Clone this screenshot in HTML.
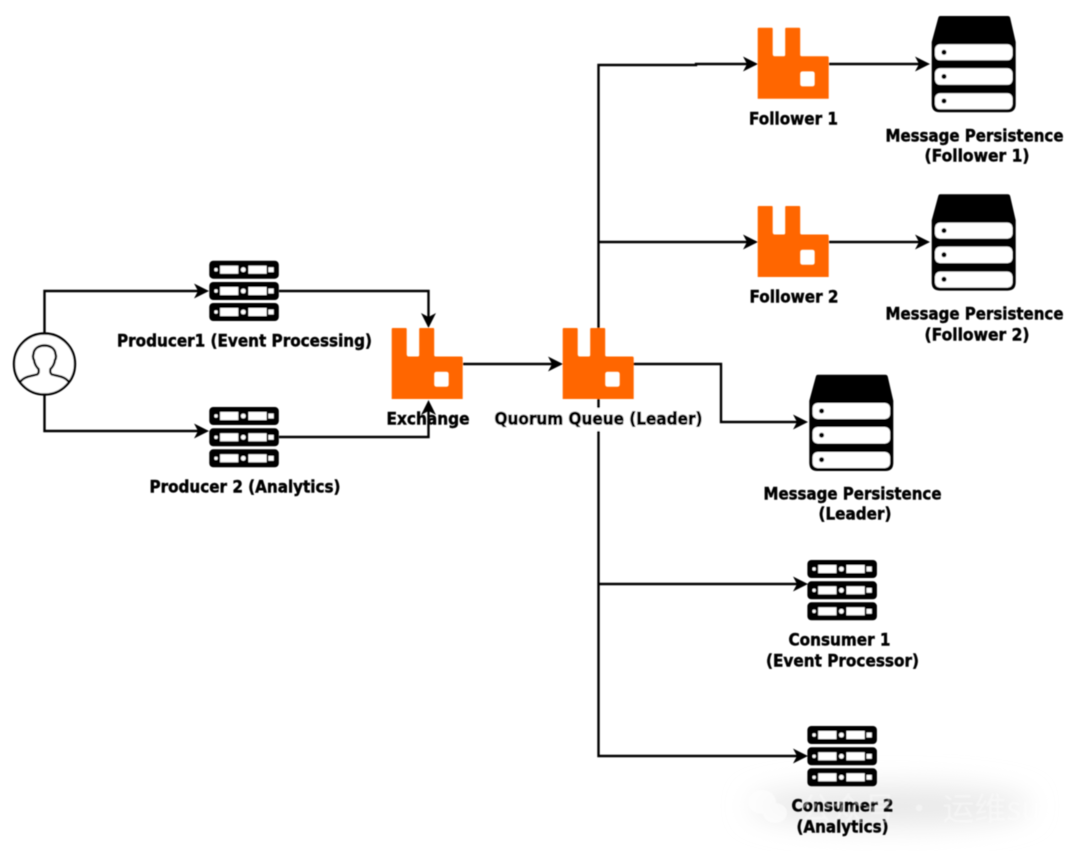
<!DOCTYPE html>
<html><head><meta charset="utf-8"><style>
html,body{margin:0;padding:0;background:#fff}
svg{display:block}
text{font-family:"DejaVu Sans","Liberation Sans","Noto Sans CJK SC",sans-serif;font-weight:700;font-size:17px;text-anchor:middle;fill:#000;stroke:#000;stroke-width:.45px}
</style></head><body>
<svg width="1080" height="851" viewBox="0 0 1080 851" xmlns="http://www.w3.org/2000/svg">
<defs>
<filter id="b" x="-30%" y="-80%" width="160%" height="260%"><feGaussianBlur stdDeviation="14"/></filter>
<filter id="s" x="-5%" y="-5%" width="110%" height="110%"><feGaussianBlur stdDeviation="0.4"/></filter>
<filter id="w" x="-5%" y="-20%" width="110%" height="140%"><feGaussianBlur stdDeviation="0.7"/></filter>
<g id="rabbit">
<path fill="#ff6600" fill-rule="evenodd" d="M0 1Q0 0 1 0H14Q15 0 15 1V26Q15 28.500 17 28.500H26Q27.500 28.500 27.500 27V1Q27.500 0 28.500 0H41.500Q42.500 0 42.500 1V27Q42.500 28.500 44 28.500H69.500Q71 28.500 71 30V71H0ZM45 43.700Q42.500 43.700 42.500 46.200V56.200Q42.500 58.700 45 58.700H54.500Q57 58.700 57 56.200V46.200Q57 43.700 54.500 43.700Z"/>
</g>
<g id="srow">
<rect width="69.500" height="18" rx="4" fill="#000"/>
<circle cx="6.700" cy="9" r="1.700" fill="#fff"/>
<rect x="10.800" y="5" width="18.200" height="8" fill="#fff"/>
<circle cx="34" cy="9" r="2.400" fill="#fff"/>
<rect x="39.100" y="5" width="18.200" height="8" fill="#fff"/>
<rect x="59.200" y="6.600" width="5.200" height="4.800" fill="#fff"/>
</g>
<g id="server">
<use href="#srow"/><use href="#srow" y="21.300"/><use href="#srow" y="42.300"/>
</g>
<g id="db">
<path d="M8.500 0H76Q78 0 78.500 2L84 26V88Q84 96.300 76 96.300H8Q0 96.300 0 88V26L6.500 2Q7 0 8.500 0Z" fill="#000"/>
<rect x="3.300" y="28.300" width="77.500" height="16" rx="5" fill="#fff"/>
<rect x="3.300" y="52.300" width="77.500" height="16.500" rx="5" fill="#fff"/>
<rect x="3.300" y="77.300" width="77.500" height="16" rx="5" fill="#fff"/>
<circle cx="12.300" cy="36.300" r="2.500" fill="#000"/>
<circle cx="12.300" cy="60.500" r="2.500" fill="#000"/>
<circle cx="12.300" cy="85" r="2.500" fill="#000"/>
</g>
<path id="ar" d="M0 0L-15 -7.500L-11 0L-15 7.500Z" fill="#000"/>
</defs>
<rect width="1080" height="851" fill="#fff"/>
<ellipse cx="890" cy="806" rx="140" ry="20" fill="#e8e8e8" filter="url(#b)"/>
<g filter="url(#s)">
<g fill="none" stroke="#000" stroke-width="2.400">
<path d="M44.500 333V291H200"/>
<path d="M44.500 395V431H200"/>
<path d="M279 291H428.500V320"/>
<path d="M279 437H428.500V408"/>
<path d="M463 364H555"/>
<path d="M598.500 328V65H696V64H750"/>
<path d="M598.500 242H750"/>
<path d="M598.500 399V756H800"/>
<path d="M598.500 584H800"/>
<path d="M633 364H721V422H800"/>
<path d="M829 64H922"/>
<path d="M829 242H922"/>
</g>
<use href="#ar" transform="translate(209 291)"/>
<use href="#ar" transform="translate(209 431)"/>
<use href="#ar" transform="translate(428.500 328) rotate(90)"/>
<use href="#ar" transform="translate(428.500 400) rotate(-90)"/>
<use href="#ar" transform="translate(563 364)"/>
<use href="#ar" transform="translate(758 64)"/>
<use href="#ar" transform="translate(758 242)"/>
<use href="#ar" transform="translate(930 64)"/>
<use href="#ar" transform="translate(930 242)"/>
<use href="#ar" transform="translate(808 422)"/>
<use href="#ar" transform="translate(808 584)"/>
<use href="#ar" transform="translate(808 756)"/>

<circle cx="44.500" cy="364" r="30.500" fill="#fff" stroke="#000" stroke-width="2.400"/>
<path d="M20.500 381.500C25 376 32 376 37 374.500C39 373.500 39 371.500 38.500 369C36 366.500 34.500 363.500 34 360C32.500 358 33 355 33.500 354C34 348.500 38.500 345.500 44.500 345.500C50.500 345.500 55 348.500 55.500 354C56 355 56.500 358 55 360C54.500 363.500 53 366.500 50.500 369C50 371.500 50 373.500 52 374.500C57 376 64 376 68.500 381.500" fill="none" stroke="#000" stroke-width="2.400"/>

<use href="#server" x="209.300" y="260.700"/>
<use href="#server" x="209.300" y="407"/>
<use href="#server" x="807.400" y="560"/>
<use href="#server" x="807.400" y="726"/>

<use href="#rabbit" x="391.700" y="328"/>
<use href="#rabbit" x="562.700" y="328"/>
<use href="#rabbit" x="757.700" y="27.700"/>
<use href="#rabbit" x="757.700" y="206"/>

<use href="#db" x="931.700" y="16"/>
<use href="#db" x="931.700" y="194.300"/>
<use href="#db" x="809.300" y="374.700"/>

<rect x="494" y="408" width="210" height="23" fill="#fff"/>

<text x="244.500" y="346.500" textLength="255" lengthAdjust="spacingAndGlyphs">Producer1 (Event Processing)</text>
<text x="245" y="492.500" textLength="191" lengthAdjust="spacingAndGlyphs">Producer 2 (Analytics)</text>
<text x="428" y="424.500" textLength="83" lengthAdjust="spacingAndGlyphs">Exchange</text>
<text x="598.500" y="424.500" textLength="208" lengthAdjust="spacingAndGlyphs" style="stroke-width:.8px">Quorum Queue (Leader)</text>
<text x="793.500" y="124.500" textLength="89" lengthAdjust="spacingAndGlyphs">Follower 1</text>
<text x="794" y="302.500" textLength="89" lengthAdjust="spacingAndGlyphs">Follower 2</text>
<text x="974.500" y="141.500" textLength="178" lengthAdjust="spacingAndGlyphs">Message Persistence</text>
<text x="977" y="161.500" textLength="105" lengthAdjust="spacingAndGlyphs">(Follower 1)</text>
<text x="974.500" y="319.500" textLength="178" lengthAdjust="spacingAndGlyphs">Message Persistence</text>
<text x="977" y="340.500" textLength="105" lengthAdjust="spacingAndGlyphs">(Follower 2)</text>
<text x="852.500" y="499.500" textLength="178" lengthAdjust="spacingAndGlyphs">Message Persistence</text>
<text x="855" y="519.500" textLength="73" lengthAdjust="spacingAndGlyphs">(Leader)</text>
<text x="839.500" y="645.500" textLength="102" lengthAdjust="spacingAndGlyphs">Consumer 1</text>
<text x="842.500" y="666.500" textLength="153" lengthAdjust="spacingAndGlyphs">(Event Processor)</text>
<text x="842.500" y="811.500" textLength="102" lengthAdjust="spacingAndGlyphs">Consumer 2</text>
<text x="842.500" y="832.500" textLength="92" lengthAdjust="spacingAndGlyphs">(Analytics)</text>
</g>
<g fill="#fff" opacity="0.6" filter="url(#w)">
<ellipse cx="762" cy="802" rx="14" ry="12"/>
<ellipse cx="775" cy="813" rx="12" ry="10"/>
</g>
<text x="800" y="820" filter="url(#w)" style="text-anchor:start;stroke:none;font-size:32px;font-weight:400;fill:#fff;opacity:.4;font-family:'Noto Sans CJK SC','Liberation Sans',sans-serif">公众号 · 运维sudo</text>
</svg>
</body></html>
